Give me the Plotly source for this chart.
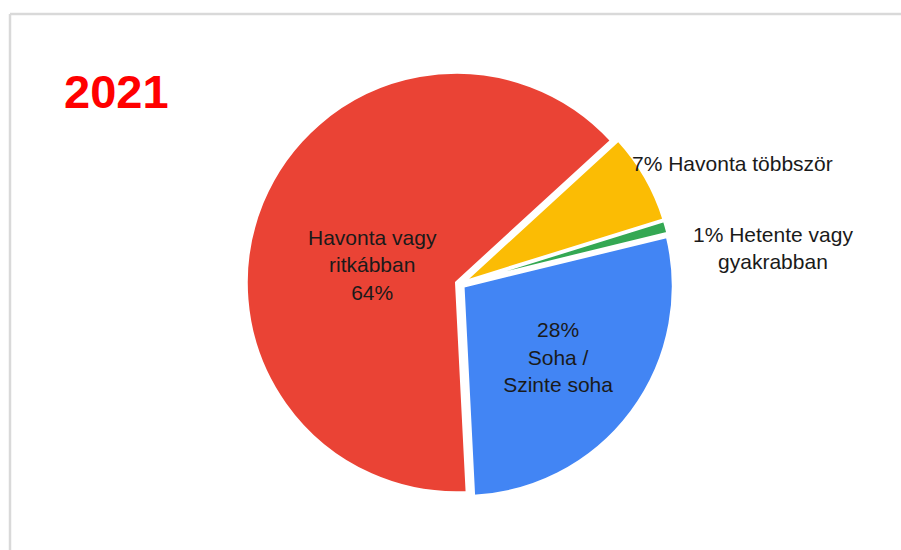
import plotly.graph_objects as go

labels = ["Soha / Szinte soha", "Havonta vagy ritkábban", "Havonta többször", "Hetente vagy gyakrabban"]
values = [28, 64, 7, 1]
texts = ["28%<br>Soha /<br>Szinte soha", "Havonta vagy<br>ritkábban<br>64%", "7% Havonta többször", "1% Hetente vagy<br>gyakrabban"]
colors = ["#4285F4", "#EA4335", "#FBBC04", "#34A853"]
title_text = "2021"

W, H = 901, 550
cx, cy, R = 460, 284, 214
FONT = "Liberation Sans, Arial"
FS = 21

inside = [True, False, False, False]
fig = go.Figure(go.Pie(
    labels=labels, values=values,
    text=[t if ins else "" for t, ins in zip(texts, inside)], textinfo="text",
    sort=False, direction="clockwise", rotation=76.3,
    marker=dict(colors=colors, line=dict(color="white", width=3)),
    pull=[0.018, 0.018, 0.018, 0.018],
    textposition="inside",
    insidetextorientation="horizontal",
    textfont=dict(family=FONT, size=FS, color="#1a1a1a"),
    domain=dict(x=[(cx - R) / W, (cx + R) / W], y=[(H - cy - R) / H, (H - cy + R) / H]),
    showlegend=False, hoverinfo="label+percent",
))

# label of the large slice
fig.add_annotation(text=texts[1], xref="paper", yref="paper", x=372 / W, y=1 - 265 / H,
                   xanchor="center", yanchor="middle", showarrow=False, align="center",
                   font=dict(family=FONT, size=FS, color="#1a1a1a"))
# outside labels for the small slices
fig.add_annotation(text=texts[2], xref="paper", yref="paper", x=630 / W, y=1 - 163 / H,
                   xanchor="left", yanchor="middle", showarrow=False,
                   font=dict(family=FONT, size=FS, color="#1a1a1a"))
fig.add_annotation(text=texts[3], xref="paper", yref="paper", x=773 / W, y=1 - 248 / H,
                   xanchor="center", yanchor="middle", showarrow=False, align="center",
                   font=dict(family=FONT, size=FS, color="#1a1a1a"))

fig.add_shape(type="line", xref="paper", yref="paper", x0=10 / W, x1=1, y0=1 - 14 / H, y1=1 - 14 / H,
              line=dict(color="#d9d9d9", width=2.5))
fig.add_shape(type="line", xref="paper", yref="paper", x0=10 / W, x1=10 / W, y0=0, y1=1 - 14 / H,
              line=dict(color="#d9d9d9", width=2.5))

fig.add_annotation(text="<b>" + title_text + "</b>", xref="paper", yref="paper", x=62 / W, y=1 - 92 / H,
                   xanchor="left", yanchor="middle", showarrow=False,
                   font=dict(family=FONT, size=47, color="#FF0000"))

fig.update_layout(width=W, height=H, margin=dict(l=0, r=0, t=0, b=0),
                  paper_bgcolor="white", plot_bgcolor="white")
fig.write_html("out.html")
